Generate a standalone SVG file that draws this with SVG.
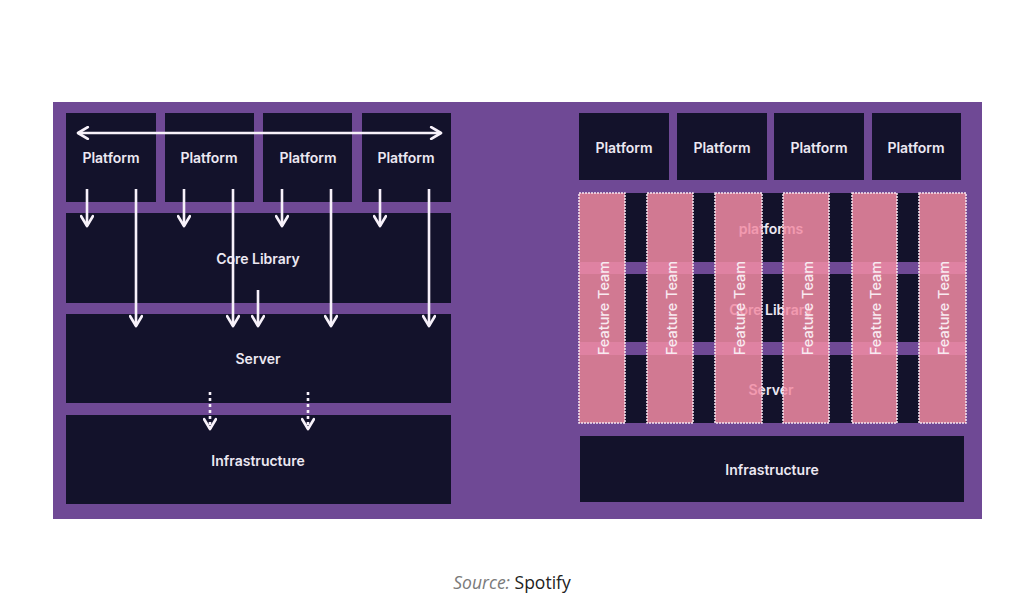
<svg xmlns="http://www.w3.org/2000/svg" width="1024" height="609" viewBox="0 0 1024 609">
<defs>
<style>
.bg{fill:#6f4995}
.blk{fill:#13122b}
.lbl{font-family:Inter,"Noto Sans","Liberation Sans",sans-serif;font-size:14px;font-weight:600;fill:#ece8f2;text-anchor:middle;dominant-baseline:central}
.ft{font-family:Inter,"Noto Sans","Liberation Sans",sans-serif;font-size:14.5px;font-weight:500;fill:#f8eaf0;text-anchor:middle;dominant-baseline:central}
.pink{fill:#f38ca4;fill-opacity:0.85;stroke:#f6e8f2;stroke-width:1.5;stroke-dasharray:2 1}
.arr{stroke:#f7f1fa;stroke-width:2.6;fill:none;marker-end:url(#chev)}
.dot{stroke:#f7f1fa;stroke-width:2.6;fill:none;stroke-dasharray:3 3;marker-end:url(#chev)}
.src{font-family:"Open Sans","Noto Sans",sans-serif;font-size:17.5px}
</style>
<marker id="chev" viewBox="0 0 10 10" refX="8.5" refY="5" markerWidth="14" markerHeight="14" markerUnits="userSpaceOnUse" orient="auto-start-reverse">
<path d="M1.5,0.8 L8.5,5 L1.5,9.2" fill="none" stroke="#f7f1fa" stroke-width="1.9" stroke-linecap="round" stroke-linejoin="round"/>
</marker>
</defs>
<rect x="0" y="0" width="1024" height="609" fill="#ffffff"/>
<rect class="bg" x="53" y="102" width="929" height="417"/>

<!-- Left diagram -->
<g id="l-platform-1"><rect class="blk" x="66" y="113" width="90" height="89"/><text class="lbl" x="111" y="157">Platform</text></g>
<g id="l-platform-2"><rect class="blk" x="165" y="113" width="89" height="89"/><text class="lbl" x="209" y="157">Platform</text></g>
<g id="l-platform-3"><rect class="blk" x="263" y="113" width="89" height="89"/><text class="lbl" x="308" y="157">Platform</text></g>
<g id="l-platform-4"><rect class="blk" x="362" y="113" width="89" height="89"/><text class="lbl" x="406" y="157">Platform</text></g>
<g id="l-core"><rect class="blk" x="66" y="213" width="385" height="90"/><text class="lbl" x="258" y="258">Core Library</text></g>
<g id="l-server"><rect class="blk" x="66" y="314" width="385" height="89"/><text class="lbl" x="258" y="358">Server</text></g>
<g id="l-infra"><rect class="blk" x="66" y="415" width="385" height="89"/><text class="lbl" x="258" y="460">Infrastructure</text></g>

<g id="connectors">
<line class="arr" x1="78" y1="133" x2="441" y2="133" marker-start="url(#chev)"/>
<line class="arr" x1="87" y1="189" x2="87" y2="226"/>
<line class="arr" x1="184" y1="189" x2="184" y2="226"/>
<line class="arr" x1="282" y1="189" x2="282" y2="226"/>
<line class="arr" x1="380" y1="189" x2="380" y2="226"/>
<line class="arr" x1="136" y1="189" x2="136" y2="326"/>
<line class="arr" x1="233" y1="189" x2="233" y2="326"/>
<line class="arr" x1="331" y1="189" x2="331" y2="326"/>
<line class="arr" x1="429" y1="189" x2="429" y2="326"/>
<line class="arr" x1="258" y1="290" x2="258" y2="326"/>
<line class="dot" x1="210" y1="392" x2="210" y2="429"/>
<line class="dot" x1="308" y1="392" x2="308" y2="429"/>
</g>

<!-- Right diagram -->
<g id="r-platform-1"><rect class="blk" x="579" y="113" width="90" height="67"/><text class="lbl" x="624" y="147">Platform</text></g>
<g id="r-platform-2"><rect class="blk" x="677" y="113" width="90" height="67"/><text class="lbl" x="722" y="147">Platform</text></g>
<g id="r-platform-3"><rect class="blk" x="774" y="113" width="90" height="67"/><text class="lbl" x="819" y="147">Platform</text></g>
<g id="r-platform-4"><rect class="blk" x="872" y="113" width="89" height="67"/><text class="lbl" x="916" y="147">Platform</text></g>

<g id="r-layers">
<rect class="blk" x="579" y="193" width="387" height="69"/>
<rect class="blk" x="579" y="274" width="387" height="68"/>
<rect class="blk" x="579" y="355" width="387" height="68"/>
<text class="lbl" x="771" y="228">platforms</text>
<text class="lbl" x="771" y="309">Core Library</text>
<text class="lbl" x="771" y="389">Server</text>
</g>

<g id="feature-team-1"><rect class="pink" x="579" y="193" width="46" height="230"/><text class="ft" transform="translate(603,308) rotate(-90)">Feature Team</text></g>
<g id="feature-team-2"><rect class="pink" x="647" y="193" width="46" height="230"/><text class="ft" transform="translate(671,308) rotate(-90)">Feature Team</text></g>
<g id="feature-team-3"><rect class="pink" x="715" y="193" width="47" height="230"/><text class="ft" transform="translate(739,308) rotate(-90)">Feature Team</text></g>
<g id="feature-team-4"><rect class="pink" x="783" y="193" width="46" height="230"/><text class="ft" transform="translate(807,308) rotate(-90)">Feature Team</text></g>
<g id="feature-team-5"><rect class="pink" x="852" y="193" width="45" height="230"/><text class="ft" transform="translate(875,308) rotate(-90)">Feature Team</text></g>
<g id="feature-team-6"><rect class="pink" x="919" y="193" width="47" height="230"/><text class="ft" transform="translate(943,308) rotate(-90)">Feature Team</text></g>

<g id="r-infra"><rect class="blk" x="580" y="436" width="384" height="66"/><text class="lbl" x="772" y="469">Infrastructure</text></g>

<text class="src" x="512" y="589" text-anchor="middle"><tspan font-style="italic" fill="#7a7a7a">Source:</tspan><tspan fill="#222222"> Spotify</tspan></text>
</svg>
